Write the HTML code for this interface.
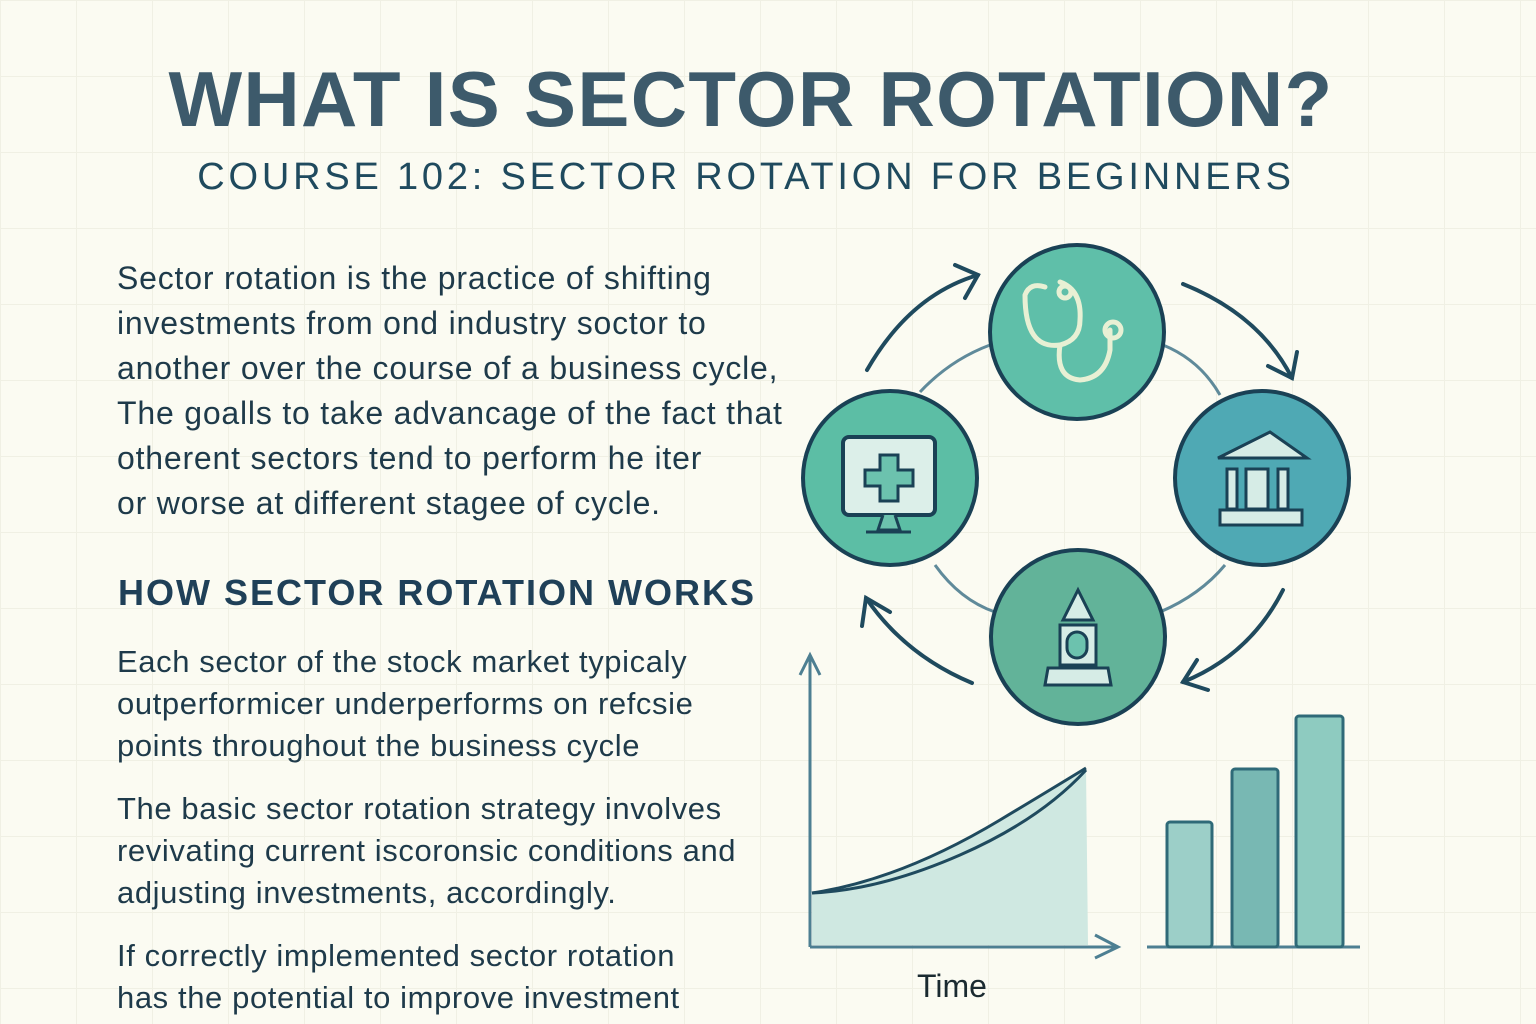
<!DOCTYPE html>
<html><head><meta charset="utf-8"><style>
body{margin:0;width:1536px;height:1024px;overflow:hidden;background:#fbfbf2;font-family:"Liberation Sans",sans-serif;position:relative}
.grid{position:absolute;inset:0;background-image:linear-gradient(#f0f0e4 1px,transparent 1px),linear-gradient(90deg,#f0f0e4 1px,transparent 1px);background-size:76px 76px}
.t{position:absolute;white-space:nowrap}
h1{position:absolute;margin:0;left:0;width:1502px;text-align:center;top:54px;font-size:78px;font-weight:bold;color:#3d5a6b;letter-spacing:1.3px}
.sub{left:0;width:1492px;text-align:center;top:156px;font-size:38px;color:#1f4a5e;letter-spacing:3.8px}
.p{left:117px;font-size:32px;color:#1e3a4a;line-height:45px;letter-spacing:0.8px}
.q{left:117px;font-size:31px;color:#1e3a4a;line-height:42px;letter-spacing:0.6px}
</style></head><body>
<div class="grid"></div>
<h1>WHAT IS SECTOR ROTATION?</h1>
<div class="t sub">COURSE 102: SECTOR ROTATION FOR BEGINNERS</div>
<div class="t p" style="top:256px">Sector rotation is the practice of shifting<br>investments from ond industry soctor to<br>another over the course of a business cycle,<br>The goalls to take advancage of the fact that<br>otherent sectors tend to perform he iter<br>or worse at different stagee of cycle.</div>
<div class="t" style="left:118px;top:572px;font-size:36px;font-weight:bold;color:#1f4058;letter-spacing:2px">HOW SECTOR ROTATION WORKS</div>
<div class="t q" style="top:641px">Each sector of the stock market typicaly<br>outperformicer underperforms on refcsie<br>points throughout the business cycle</div>
<div class="t q" style="top:788px">The basic sector rotation strategy involves<br>revivating current iscoronsic conditions and<br>adjusting investments, accordingly.</div>
<div class="t q" style="top:935px">If correctly implemented  sector rotation<br>has the potential to improve investment</div>
<svg width="1536" height="1024" style="position:absolute;left:0;top:0">
<g fill="none" stroke="#5f8a9a" stroke-width="3">
<path d="M920 392 Q950 360 990 345"/><path d="M1163 345 Q1200 360 1220 395"/>
<path d="M935 565 Q960 600 995 612"/><path d="M1160 612 Q1200 595 1225 565"/>
</g>
<g fill="none" stroke="#1f4a5e" stroke-width="4" stroke-linecap="round">
<path d="M867 370 Q910 295 978 275"/><path d="M955 265 L978 275 L965 298"/>
<path d="M1183 284 Q1260 315 1292 378"/><path d="M1268 366 L1292 378 L1297 352"/>
<path d="M1283 590 Q1250 655 1183 682"/><path d="M1197 660 L1183 682 L1208 690"/>
<path d="M972 683 Q905 655 866 598"/><path d="M862 626 L866 598 L890 612"/>
</g>
<g stroke="#1a4155" stroke-width="4">
<circle cx="1077" cy="332" r="87" fill="#5fbfa9"/>
<circle cx="890" cy="478" r="87" fill="#5cbea5"/>
<circle cx="1262" cy="478" r="87" fill="#4fa9b4"/>
<circle cx="1078" cy="637" r="87" fill="#62b399"/>
</g>
<g fill="none" stroke="#e8f0d4" stroke-width="5" stroke-linecap="round">
<path d="M1025 295 Q1030 282 1045 287 M1025 295 Q1025 350 1060 345 Q1080 340 1080 320 Q1082 290 1060 282"/>
<path d="M1060 345 Q1055 378 1080 380 Q1105 378 1110 350 L1110 330"/>
<circle cx="1113" cy="330" r="8"/><circle cx="1065" cy="292" r="6"/>
</g>
<rect x="843" y="437" width="92" height="78" rx="6" fill="#dcefe9" stroke="#1a4155" stroke-width="4"/>
<path d="M880 455h18v15h15v16h-15v15h-18v-15h-15v-16h15z" fill="#6cc2ae" stroke="#1a4155" stroke-width="3"/>
<path d="M883 515 L878 530 h22 L895 515 M866 532h45" fill="#6cc2ae" stroke="#1a4155" stroke-width="3"/>
<g stroke="#1a4155" stroke-width="3" fill="#d6ece6">
<path d="M1218 458 L1270 432 L1307 458 Z"/>
<rect x="1227" y="469" width="10" height="40"/><rect x="1246" y="469" width="22" height="40"/><rect x="1278" y="469" width="10" height="40"/>
<rect x="1220" y="510" width="82" height="15"/>
<path d="M1063 620 L1078 590 L1093 620 Z"/>
<rect x="1060" y="625" width="36" height="40"/>
<rect x="1067" y="632" width="20" height="26" rx="10" fill="#6cc2ae"/>
<path d="M1048 668h60l3 17h-66z"/>
</g>
<path d="M812 893 Q900 880 1000 820 Q1050 790 1086 768 L1088 945 L812 945 Z" fill="#cfe8e1"/>
<g fill="none" stroke="#1f4a5e" stroke-width="3">
<path d="M812 893 Q900 880 1000 820 Q1050 790 1086 768"/>
<path d="M812 893 Q880 890 960 855 Q1040 820 1086 770"/>
</g>
<g fill="none" stroke="#4d7f92" stroke-width="3">
<path d="M810 947 V655 M800 675 L810 655 L820 675"/>
<path d="M810 947 H1118 M1095 935 L1118 947 L1095 958"/>
<path d="M1147 947 H1360"/>
</g>
<g stroke="#2f6a78" stroke-width="3">
<rect x="1167" y="822" width="45" height="125" rx="3" fill="#9ccfc8"/>
<rect x="1232" y="769" width="46" height="178" rx="3" fill="#78b8b3"/>
<rect x="1296" y="716" width="47" height="231" rx="3" fill="#8ecbc0"/>
</g>
<text x="917" y="997" font-family="Liberation Sans" font-size="32" fill="#1a2a30">Time</text>
</svg>
</body></html>
